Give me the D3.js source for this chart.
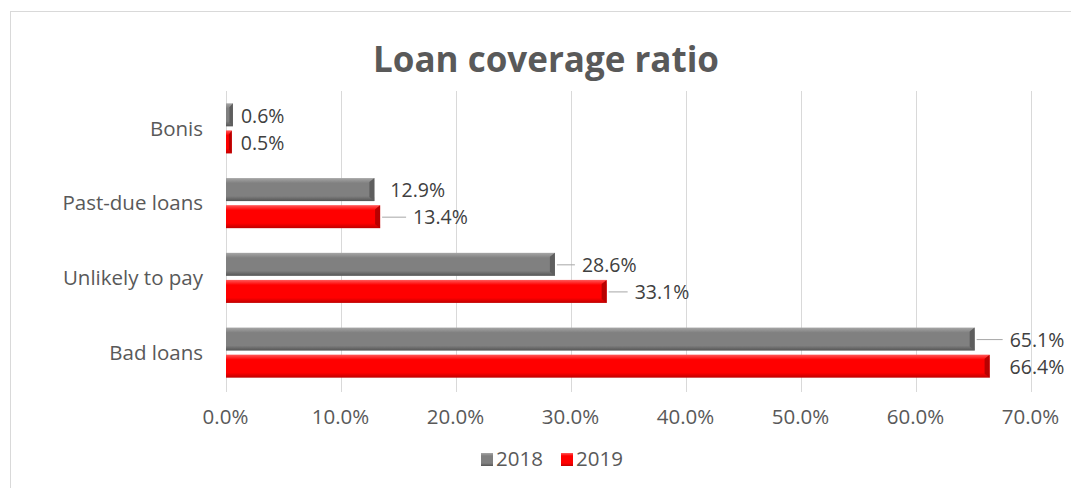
<!DOCTYPE html>
<html>
<head>
<meta charset="utf-8">
<script src="https://cdn.jsdelivr.net/npm/d3@7"></script>
<style>
  body { margin: 0; background: #fff; }
  text { font-family: "Open Sans", Lato, sans-serif; }
</style>
</head>
<body>
<div id="chart"></div>
<script>
// chart data
var categories = ["Bonis", "Past-due loans", "Unlikely to pay", "Bad loans"];
var seriesNames = ["2018", "2019"];
var values2018 = [0.6, 12.9, 28.6, 65.1];
var values2019 = [0.5, 13.4, 33.1, 66.4];
var tickValues = [0, 10, 20, 30, 40, 50, 60, 70];

// where data labels sit (pixels past bar end) and whether they get a leader line
var labelOffsets2018 = [8, 16, 27, 35];
var labelOffsets2019 = [9, 33, 28, 20];
var leader2018 = [false, false, true, true];
var leader2019 = [false, true, true, false];

var svgWidth = 1071;
var svgHeight = 488;
var fontSize = 20.5;
var labelSize = 19.5;

var svg = d3.select("#chart")
  .append("svg")
  .attr("width", svgWidth)
  .attr("height", svgHeight);

// outer chart border
svg.append("rect")
  .attr("x", 10.5).attr("y", 11.5)
  .attr("width", 1070).attr("height", 490)
  .attr("fill", "none")
  .attr("stroke", "#d9d9d9");

// gradients for the bevelled bars
var defs = svg.append("defs");
var colors = {
  "2018": { top: "#a6a6a6", mid: "#808080", bot: "#555555", cap: "#5e5e5e" },
  "2019": { top: "#ff5a5a", mid: "#ff0000", bot: "#c00000", cap: "#b80000" }
};
seriesNames.forEach(function(s) {
  var g = defs.append("linearGradient")
    .attr("id", "grad" + s)
    .attr("x1", 0).attr("y1", 0).attr("x2", 0).attr("y2", 1);
  g.append("stop").attr("offset", "0%").attr("stop-color", colors[s].top);
  g.append("stop").attr("offset", "22%").attr("stop-color", colors[s].mid);
  g.append("stop").attr("offset", "78%").attr("stop-color", colors[s].mid);
  g.append("stop").attr("offset", "100%").attr("stop-color", colors[s].bot);
});

var plotLeft = 226, plotRight = 1031, plotTop = 91, plotBottom = 390;

var xScale = d3.scaleLinear()
  .domain([0, 70])
  .range([plotLeft, plotRight]);

var yScale = d3.scaleBand()
  .domain(categories)
  .range([plotTop, plotBottom])
  .paddingInner(0.33)
  .paddingOuter(0.165);

var ySub = d3.scaleBand()
  .domain(seriesNames)
  .range([0, yScale.bandwidth()])
  .paddingInner(0.15);

// gridlines
svg.append("g")
  .selectAll("line")
  .data(tickValues)
  .enter()
  .append("line")
  .attr("x1", d => xScale(d) + 0.5)
  .attr("x2", d => xScale(d) + 0.5)
  .attr("y1", plotTop)
  .attr("y2", plotBottom + 2)
  .attr("stroke", "#d9d9d9")
  .attr("stroke-width", 1);

// x axis labels
var xAxis = d3.axisBottom(xScale)
  .tickValues(tickValues)
  .tickSize(0)
  .tickPadding(0)
  .tickFormat(d => d.toFixed(1) + "%");

var xg = svg.append("g")
  .attr("transform", "translate(-1," + 409 + ")")
  .call(xAxis);
xg.select(".domain").remove();
xg.selectAll("text")
  .attr("font-family", "'Open Sans', Lato, sans-serif")
  .attr("font-size", fontSize)
  .attr("fill", "#595959");

// category labels
svg.append("g")
  .selectAll("text")
  .data(categories)
  .enter()
  .append("text")
  .attr("x", 203)
  .attr("y", d => yScale(d) + yScale.bandwidth() / 2)
  .attr("dy", "0.35em")
  .attr("text-anchor", "end")
  .attr("font-size", fontSize)
  .attr("fill", "#595959")
  .text(d => d);

// bars
var series = [
  { name: "2018", values: values2018, offsets: labelOffsets2018, leaders: leader2018 },
  { name: "2019", values: values2019, offsets: labelOffsets2019, leaders: leader2019 }
];

series.forEach(function(s) {
  var rows = categories.map(function(c, i) {
    return { cat: c, value: s.values[i], offset: s.offsets[i], leader: s.leaders[i] };
  });
  var g = svg.append("g");

  rows.forEach(function(d) {
    var x0 = xScale(0);
    var x1 = xScale(d.value);
    var y0 = yScale(d.cat) + ySub(s.name);
    var h = ySub.bandwidth();
    var w = x1 - x0;

    g.append("rect")
      .attr("x", x0).attr("y", y0)
      .attr("width", w).attr("height", h)
      .attr("fill", "url(#grad" + s.name + ")");

    // bevelled right end
    var b = Math.min(5, w / 2);
    g.append("path")
      .attr("d", "M" + (x1 - b) + "," + (y0 + 4) + "L" + x1 + "," + y0 +
        "L" + x1 + "," + (y0 + h) + "L" + (x1 - b) + "," + (y0 + h - 4) + "Z")
      .attr("fill", colors[s.name].cap);

    // leader line
    if (d.leader) {
      g.append("line")
        .attr("x1", x1 + 2).attr("x2", x1 + d.offset - 7)
        .attr("y1", y0 + h / 2 + 0.5).attr("y2", y0 + h / 2 + 0.5)
        .attr("stroke", "#a6a6a6")
        .attr("stroke-width", 1);
    }

    // data label
    g.append("text")
      .attr("x", x1 + d.offset)
      .attr("y", y0 + h / 2 + 1)
      .attr("dy", "0.35em")
      .attr("font-size", labelSize)
      .attr("fill", "#404040")
      .text(d.value.toFixed(1) + "%");
  });
});

// title
svg.append("text")
  .attr("x", 546)
  .attr("y", 72)
  .attr("text-anchor", "middle")
  .attr("font-size", 35)
  .attr("font-weight", "bold")
  .attr("fill", "#595959")
  .text("Loan coverage ratio");

// legend
var legendX = [481, 561];
var legend = svg.append("g");
seriesNames.forEach(function(s, i) {
  legend.append("rect")
    .attr("x", legendX[i]).attr("y", 453)
    .attr("width", 12).attr("height", 13)
    .attr("fill", "url(#grad" + s + ")");
  legend.append("text")
    .attr("x", legendX[i] + 15)
    .attr("y", 459)
    .attr("dy", "0.35em")
    .attr("font-size", fontSize)
    .attr("fill", "#595959")
    .text(s);
});
</script>
</body>
</html>
